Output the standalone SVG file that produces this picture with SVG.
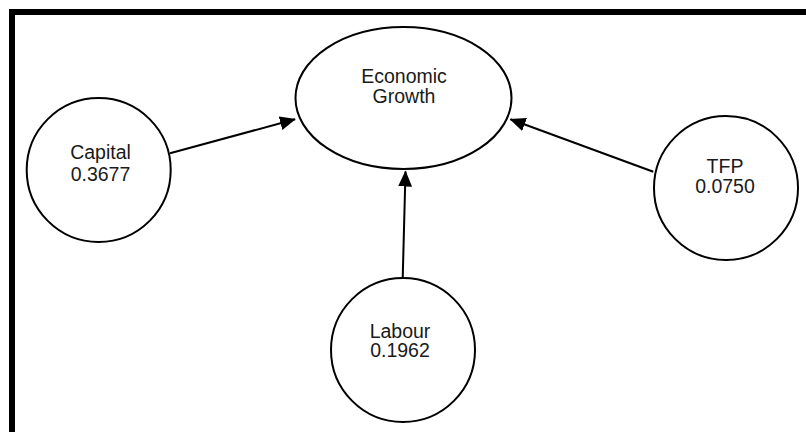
<svg xmlns="http://www.w3.org/2000/svg" width="806" height="432" viewBox="0 0 806 432">
  <style>
    .node { fill: #ffffff; stroke: #000000; stroke-width: 2; }
    .label { font-family: "Liberation Sans", Arial, sans-serif; font-size: 19.5px; fill: #1a1a1a; text-anchor: middle; }
    .edge { stroke: #000000; stroke-width: 2; fill: none; marker-end: url(#arrow); }
  </style>
  <defs>
    <marker id="arrow" viewBox="0 0 16 14" refX="15" refY="7" markerWidth="16" markerHeight="14" markerUnits="userSpaceOnUse" orient="auto">
      <path d="M0,0 L16,7 L0,14 Z" fill="#000000"/>
    </marker>
  </defs>

  <rect width="806" height="432" fill="#ffffff"/>

  <!-- frame: top and left bars only -->
  <g id="frame" fill="#000000">
    <rect x="9" y="9" width="797" height="6"/>
    <rect x="9" y="9" width="6" height="423"/>
  </g>

  <g id="connectors">
    <line class="edge" x1="170" y1="153.3" x2="295" y2="119.3"/>
    <line class="edge" x1="402.7" y1="278.3" x2="405.5" y2="171.5"/>
    <line class="edge" x1="653.3" y1="171.7" x2="510.5" y2="119.3"/>
  </g>

  <g id="economic-growth">
    <ellipse class="node" cx="403.5" cy="98" rx="108" ry="71"/>
    <text class="label" x="404" y="83">Economic</text>
    <text class="label" x="404" y="102.7">Growth</text>
  </g>

  <g id="capital">
    <circle class="node" cx="98.7" cy="170" r="72"/>
    <text class="label" x="100.5" y="159">Capital</text>
    <text class="label" x="100.5" y="180.7">0.3677</text>
  </g>

  <g id="labour">
    <circle class="node" cx="403" cy="350" r="72"/>
    <text class="label" x="400" y="337.7">Labour</text>
    <text class="label" x="400" y="357.3">0.1962</text>
  </g>

  <g id="tfp">
    <circle class="node" cx="726" cy="188" r="72"/>
    <text class="label" x="725" y="172.7">TFP</text>
    <text class="label" x="725" y="192.7">0.0750</text>
  </g>
</svg>
